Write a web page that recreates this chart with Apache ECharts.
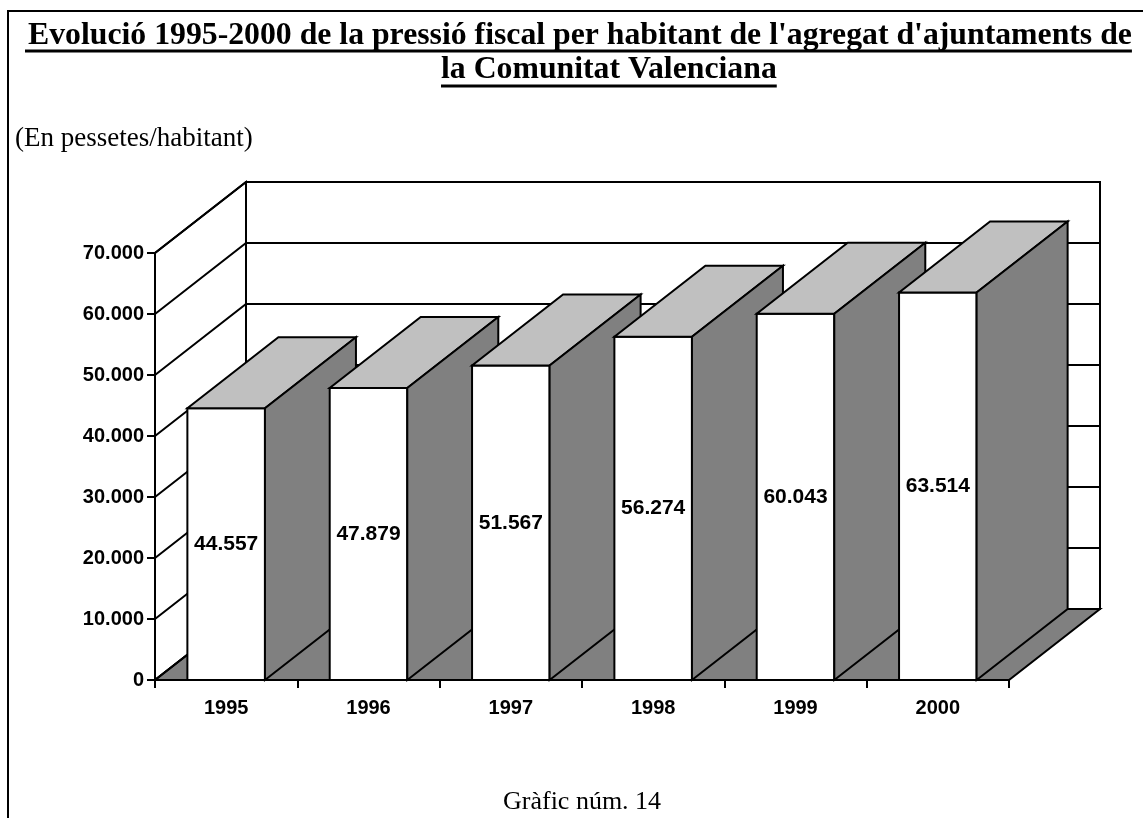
<!DOCTYPE html>
<html>
<head>
<meta charset="utf-8">
<title>Gràfic núm. 14</title>
<script src="https://cdn.jsdelivr.net/npm/echarts@6/dist/echarts.min.js"></script>
<style>
  html, body { margin: 0; padding: 0; background: #fff; }
  #chart { width: 1143px; height: 818px; }
</style>
</head>
<body>
<div id="chart"></div>
<script>
// data
const years = ['1995', '1996', '1997', '1998', '1999', '2000'];
const pressio = [44557, 47879, 51567, 56274, 60043, 63514];
const yTicks = [0, 10000, 20000, 30000, 40000, 50000, 60000, 70000];

const titleLine1 = "Evolució 1995-2000 de la pressió fiscal per habitant de l'agregat d'ajuntaments de";
const titleLine2 = 'la Comunitat Valenciana';
const unitsText = '(En pessetes/habitant)';
const footerText = 'Gràfic núm. 14';

// pseudo 3d depth, in pixels
const DX = 91, DY = 71;
const SERIF = '"Liberation Serif", "Times New Roman", serif';
const SANS = '"Liberation Sans", Arial, sans-serif';

function fmt(v) {
  return String(v).replace(/\B(?=(\d{3})+(?!\d))/g, '.');
}

function textWidth(txt, font) {
  const ctx = document.createElement('canvas').getContext('2d');
  ctx.font = font;
  return ctx.measureText(txt).width;
}

// fit the first title line between x=28 and x=1132
const t1Left = 28, t1Right = 1132, t2Left = 441;
const titleSize = Math.min(32, 32 * (t1Right - t1Left) / textWidth(titleLine1, 'bold 32px ' + SERIF));
const w1 = textWidth(titleLine1, 'bold ' + titleSize + 'px ' + SERIF);
const w2 = textWidth(titleLine2, 'bold ' + titleSize + 'px ' + SERIF);

const edge = { stroke: '#000', lineWidth: 2 };

function renderWalls(params, api) {
  const cs = params.coordSys;
  const x0 = cs.x, x1 = cs.x + cs.width;
  const yTop = api.coord([0, yTicks[yTicks.length - 1]])[1];
  const y0 = api.coord([0, 0])[1];
  return {
    type: 'group',
    children: [
      { type: 'polygon', shape: { points: [[x0 + DX, yTop - DY], [x1 + DX, yTop - DY], [x1 + DX, y0 - DY], [x0 + DX, y0 - DY]] },
        style: Object.assign({ fill: '#fff' }, edge) },
      { type: 'polygon', shape: { points: [[x0, y0], [x0, yTop], [x0 + DX, yTop - DY], [x0 + DX, y0 - DY]] },
        style: Object.assign({ fill: '#fff' }, edge) },
      { type: 'polygon', shape: { points: [[x0, y0], [x1, y0], [x1 + DX, y0 - DY], [x0 + DX, y0 - DY]] },
        style: Object.assign({ fill: '#808080' }, edge) }
    ]
  };
}

function renderGridLine(params, api) {
  const cs = params.coordSys;
  const x0 = cs.x, x1 = cs.x + cs.width;
  const y = api.coord([0, api.value(1)])[1];
  return {
    type: 'polyline',
    shape: { points: [[x0, y], [x0 + DX, y - DY], [x1 + DX, y - DY]] },
    style: { stroke: '#000', lineWidth: 2, fill: null }
  };
}

function renderBar(params, api) {
  const idx = api.value(0), val = api.value(1);
  const top = api.coord([idx, val]);
  const base = api.coord([idx, 0]);
  const w = api.size([1, 0])[0] * 0.545;
  const l = top[0] - w / 2, r = top[0] + w / 2;
  const yT = top[1], yB = base[1];
  return {
    type: 'group',
    children: [
      { type: 'polygon', shape: { points: [[l, yB], [r, yB], [r, yT], [l, yT]] },
        style: Object.assign({ fill: '#fff' }, edge) },
      { type: 'polygon', shape: { points: [[l, yT], [r, yT], [r + DX, yT - DY], [l + DX, yT - DY]] },
        style: Object.assign({ fill: '#c0c0c0' }, edge) },
      { type: 'polygon', shape: { points: [[r, yB], [r, yT], [r + DX, yT - DY], [r + DX, yB - DY]] },
        style: Object.assign({ fill: '#808080' }, edge) },
      { type: 'text', x: top[0], y: (yT + yB) / 2,
        style: { text: fmt(val), align: 'center', verticalAlign: 'middle',
                 font: 'bold 21px ' + SANS, fill: '#000' } }
    ]
  };
}

const chart = echarts.init(document.getElementById('chart'));

chart.setOption({
  animation: false,
  backgroundColor: '#fff',
  title: [
    { text: titleLine1, left: t1Left, top: 20, padding: 0,
      textStyle: { fontFamily: SERIF, fontSize: titleSize, fontWeight: 'bold', color: '#000', lineHeight: 32 } },
    { text: titleLine2, left: t2Left, top: 54, padding: 0,
      textStyle: { fontFamily: SERIF, fontSize: titleSize, fontWeight: 'bold', color: '#000', lineHeight: 32 } },
    { text: unitsText, left: 15, top: 125, padding: 0,
      textStyle: { fontFamily: SERIF, fontSize: 27, fontWeight: 'normal', color: '#000', lineHeight: 27 } },
    { text: footerText, left: 503, top: 789, padding: 0,
      textStyle: { fontFamily: SERIF, fontSize: 26, fontWeight: 'normal', color: '#000', lineHeight: 26 } }
  ],
  graphic: [
    { type: 'rect', shape: { x: t1Left - 3, y: 49.5, width: w1 + 3, height: 3 }, style: { fill: '#000' } },
    { type: 'rect', shape: { x: t2Left, y: 84.5, width: w2, height: 3 }, style: { fill: '#000' } },
    { type: 'polyline', shape: { points: [[1143, 11], [8, 11], [8, 818]] }, style: { stroke: '#000', lineWidth: 2, fill: null } }
  ],
  grid: { left: 155, right: 134, top: 253, bottom: 138, containLabel: false },
  xAxis: {
    type: 'category',
    data: years,
    boundaryGap: true,
    z: 5,
    axisLine: { lineStyle: { color: '#000', width: 2 } },
    axisTick: { show: true, length: 8, interval: 0, lineStyle: { color: '#000', width: 2 } },
    axisLabel: { margin: 18, color: '#000', fontFamily: SANS, fontWeight: 'bold', fontSize: 20 },
    splitLine: { show: false }
  },
  yAxis: {
    type: 'value',
    min: 0,
    max: 70000,
    interval: 10000,
    z: 5,
    axisLine: { show: true, lineStyle: { color: '#000', width: 2 } },
    axisTick: { show: true, length: 8, lineStyle: { color: '#000', width: 2 } },
    axisLabel: { margin: 11, color: '#000', fontFamily: SANS, fontWeight: 'bold', fontSize: 20, formatter: fmt },
    splitLine: { show: false }
  },
  series: [
    { type: 'custom', name: 'walls', renderItem: renderWalls, data: [[0, 0]], silent: true, clip: false },
    { type: 'custom', name: 'gridlines', renderItem: renderGridLine, data: yTicks.map(v => [0, v]), silent: true, clip: false },
    { type: 'custom', name: 'Pressió fiscal', renderItem: renderBar,
      data: pressio.map((v, i) => [i, v]), clip: false }
  ]
});
</script>
</body>
</html>
